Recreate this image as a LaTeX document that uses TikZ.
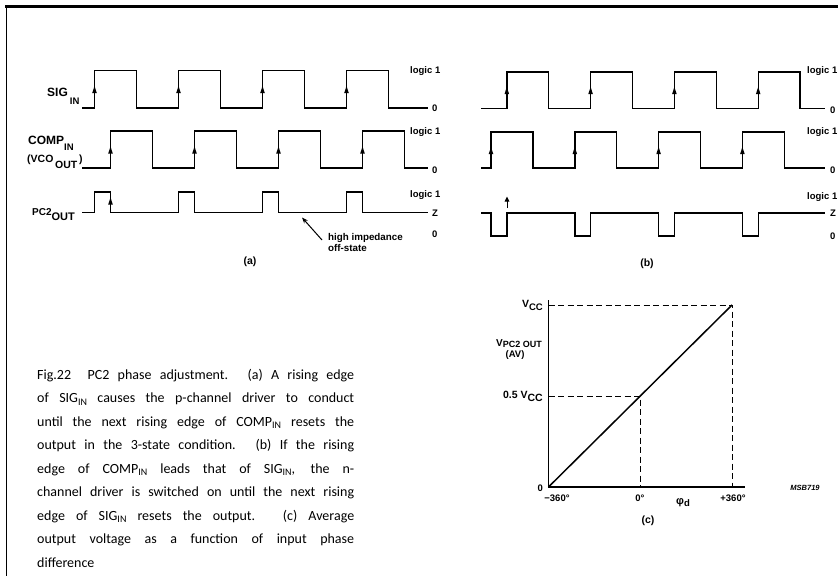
\documentclass[tikz,border=0pt]{standalone}
\usepackage{fontspec}
\usetikzlibrary{arrows.meta}
\newfontfamily\labf{Liberation Sans}
\newfontfamily\capf{Carlito}
\newcommand\dsub[3]{\raisebox{-#1}{\fontsize{#2}{#2}\selectfont #3}}
\newcommand\csub[1]{\raisebox{-2.5pt}{\fontsize{10}{10}\selectfont #1}}
\newcommand\edgear[2]{\fill (#1-2.3,#2+3.6) -- (#1,#2-3.6) -- (#1+2.3,#2+3.6) -- cycle;}
\begin{document}
\begin{tikzpicture}[x=1pt,y=-1pt,
  wave/.style={line width=1.4pt,line join=miter},
  lab/.style={font=\labf\bfseries\fontsize{9.5}{10}\selectfont,inner sep=0pt},
  sig/.style={font=\labf\bfseries\fontsize{12}{12}\selectfont,inner sep=0pt},
  dashline/.style={line width=0.9pt,dash pattern=on 6pt off 3.5pt},
  capline/.style={font=\capf\fontsize{14}{14}\selectfont,inner sep=0pt,anchor=base west}]
\useasboundingbox (0,0) rectangle (838,576);
\fill[white] (0,0) rectangle (838,576);
% frame
\draw[line width=3pt] (5,6.5) -- (838,6.5);
\draw[line width=1.5pt] (6.5,5) -- (6.5,576);

% ---------------- panel (a) ----------------
\draw[wave] (82,108) foreach \k in {0,...,3} { -- ({94.5+84*\k},108) -- ({94.5+84*\k},70.5) -- ({136.5+84*\k},70.5) -- ({136.5+84*\k},108) } -- (428,108);
\foreach \k in {0,...,3} {\edgear{94.5+84*\k}{89.5}}
\draw[wave] (82,168) foreach \k in {0,...,3} { -- ({110.5+84*\k},168) -- ({110.5+84*\k},131) -- ({152.5+84*\k},131) -- ({152.5+84*\k},168) } -- (428,168);
\foreach \k in {0,...,3} {\edgear{110.5+84*\k}{150}}
\draw[wave] (82,212.5) foreach \k in {0,...,3} { -- ({94.5+84*\k},212.5) -- ({94.5+84*\k},192) -- ({110.5+84*\k},192) -- ({110.5+84*\k},212.5) } -- (428,212.5);
\edgear{110.5}{201}

\node[sig,anchor=base west] (sigA) at (47,96.5) {SIG\,\dsub{8pt}{9.5}{IN}};
\node[sig,anchor=base west] (compA) at (28,144.5) {COMP\dsub{5.5pt}{9.5}{IN}};
\node[sig,anchor=base west] (vcoA) at (27,162.5) {\fontsize{10.5}{10.5}\selectfont(VCO\,\dsub{6pt}{10.5}{OUT}\,)};
\node[sig,anchor=base west] (pcA) at (32,215) {\fontsize{10}{10}\selectfont PC2\dsub{5pt}{11}{OUT}};

\node[lab,anchor=base west] (l1a) at (410,73.5) {logic 1};
\node[lab,anchor=base west] (z1a) at (432,111.5) {0};
\node[lab,anchor=base west] (l2a) at (410,134.5) {logic 1};
\node[lab,anchor=base west] (z2a) at (432,173) {0};
\node[lab,anchor=base west] (l3a) at (410,197.5) {logic 1};
\node[lab,anchor=base west] (zza) at (432,216) {Z};
\node[lab,anchor=base west] (z3a) at (432,237) {0};

\node[lab,anchor=west,font=\labf\bfseries\fontsize{9.8}{11}\selectfont,align=left] (hi) at (328,242) {high impedance\\off-state};
\coordinate (hitip) at (302,217.5);
\draw[line width=1pt,-{Stealth[length=6pt,width=4.5pt]}] (322,240) -- (hitip);
\node[lab,font=\labf\bfseries\fontsize{10.5}{11}\selectfont] (capa) at (250,262) {(a)};

% ---------------- panel (b) ----------------
\draw[wave] (481,108.5) foreach \k in {0,...,3} { -- ({506.8+83.8*\k},108.5) -- ({506.8+83.8*\k},72) -- ({548.7+83.8*\k},72) -- ({548.7+83.8*\k},108.5) } -- (825,108.5);
\foreach \k in {0,...,3} {\edgear{506.8+83.8*\k}{90.5}}
\draw[wave] (481,168) foreach \k in {0,...,3} { -- ({491+83.8*\k},168) -- ({491+83.8*\k},132) -- ({532.9+83.8*\k},132) -- ({532.9+83.8*\k},168) } -- (825,168);
\foreach \k in {0,...,3} {\edgear{491+83.8*\k}{150.5}}
\draw[wave] (481,213) foreach \k in {0,...,3} { -- ({491+83.8*\k},213) -- ({491+83.8*\k},236) -- ({506.8+83.8*\k},236) -- ({506.8+83.8*\k},213) } -- (825,213);
\coordinate (arb0) at (507,208);
\coordinate (arb1) at (507,196.5);
\draw[line width=1pt,-{Triangle[length=5pt,width=4.6pt]}] (arb0) -- (arb1);

\node[lab,anchor=base west] (l1b) at (807,73.5) {logic 1};
\node[lab,anchor=base west] (z1b) at (830,113) {0};
\node[lab,anchor=base west] (l2b) at (807,134.5) {logic 1};
\node[lab,anchor=base west] (z2b) at (830,173) {0};
\node[lab,anchor=base west] (l3b) at (807,199.5) {logic 1};
\node[lab,anchor=base west] (zzb) at (830,216.5) {Z};
\node[lab,anchor=base west] (z3b) at (830,239.5) {0};
\node[lab,font=\labf\bfseries\fontsize{10.5}{11}\selectfont] (capb) at (647,264) {(b)};

% ---------------- panel (c) ----------------
\coordinate (o) at (548.5,487);
\draw[line width=1.2pt] (548.5,300) -- (o) -- (745,487);
\draw[dashline] (548.5,305) -- (732,305) -- (732,487);
\draw[dashline] (548.5,396) -- (640,396) -- (640,487);
\draw[line width=1.5pt] (o) -- (732,305);

\node[lab,anchor=base east,font=\labf\bfseries\fontsize{10.5}{11}\selectfont] (vcc) at (543,307) {V\dsub{3pt}{9.5}{CC}};
\node[lab,anchor=base east,font=\labf\bfseries\fontsize{10}{11}\selectfont] (vpc) at (542,346) {V\dsub{1.5pt}{9}{PC2 OUT}};
\node[lab,font=\labf\bfseries\fontsize{9.5}{10}\selectfont] (av) at (515,355.5) {(AV)};
\node[lab,anchor=base east,font=\labf\bfseries\fontsize{10.5}{11}\selectfont] (half) at (543,398) {0.5 V\dsub{3pt}{10.5}{CC}};
\node[lab,anchor=base east] (zero) at (543,491.5) {0};
\node[lab,anchor=base] (m360) at (557,501.5) {−360°};
\node[lab,anchor=base] (d0) at (640,501.5) {0°};
\node[lab,anchor=base] (p360) at (733,501.5) {+360°};
\node[lab,anchor=base,font=\labf\bfseries\fontsize{11}{11}\selectfont] (phi) at (683,504) {φ\dsub{2.5pt}{9.5}{d}};
\node[lab,anchor=base,font=\labf\bfseries\fontsize{10.5}{11}\selectfont] (capc) at (648,523) {(c)};
\node[lab,anchor=base,font=\labf\bfseries\itshape\fontsize{7.5}{8}\selectfont] (msb) at (805,490) {MSB719};

% ---------------- caption ----------------
\node[capline] (c1) at (37,379) {\makebox[317pt][s]{Fig.22\ \ PC2 phase adjustment. (a) A rising edge}};
\node[capline] (c2) at (37,402.5) {\makebox[317pt][s]{of SIG\csub{IN} causes the p-channel driver to conduct}};
\node[capline] (c3) at (37,426) {\makebox[317pt][s]{until the next rising edge of COMP\csub{IN} resets the}};
\node[capline] (c4) at (37,449.5) {\makebox[317pt][s]{output in the 3-state condition. (b) If the rising}};
\node[capline] (c5) at (37,473) {\makebox[317pt][s]{edge of COMP\csub{IN} leads that of SIG\csub{IN}, the n-}};
\node[capline] (c6) at (37,496.5) {\makebox[317pt][s]{channel driver is switched on until the next rising}};
\node[capline] (c7) at (37,520) {\makebox[317pt][s]{edge of SIG\csub{IN} resets the output. (c) Average}};
\node[capline] (c8) at (37,543.5) {\makebox[317pt][s]{output voltage as a function of input phase}};
\node[capline] (c9) at (37,567) {difference};
\end{tikzpicture}
\end{document}
